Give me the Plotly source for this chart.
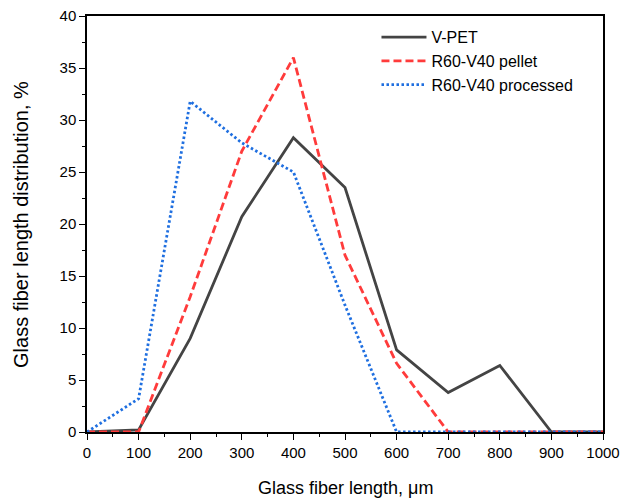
import plotly.graph_objects as go

x_um = [0, 100, 200, 300, 400, 500, 600, 700, 800, 900, 1000]
v_pet = [0, 0.2, 9.0, 20.7, 28.3, 23.5, 7.9, 3.8, 6.4, 0, 0]
r60_pellet = [0, 0, 13.0, 27.0, 36.0, 17.0, 6.6, 0, 0, 0, 0]
r60_processed = [0, 3.2, 31.8, 27.8, 25.0, 12.2, 0, 0, 0, 0, 0]

names = ["V-PET", "R60-V40 pellet", "R60-V40 processed"]
colors = ["#444444", "#ff3b3b", "#1f6fe0"]
dashes = ["solid", "8px,4px", "2.5px,2.5px"]
series = [v_pet, r60_pellet, r60_processed]

fig = go.Figure()
for nm, ys, c, d in zip(names, series, colors, dashes):
    fig.add_trace(go.Scatter(x=x_um, y=ys, mode="lines", name=nm,
                             line=dict(color=c, width=2.8, dash=d)))

axis_common = dict(showline=True, linecolor="black", linewidth=1.5, mirror=True,
                   showgrid=False, zeroline=False, ticks="outside", ticklen=6,
                   tickwidth=1.2, tickcolor="black", automargin=False,
                   tickfont=dict(family="Liberation Sans, Arial", size=15, color="black"))

fig.update_layout(
    width=622, height=503,
    margin=dict(l=87, r=19, t=16, b=71),
    paper_bgcolor="white", plot_bgcolor="white",
    font=dict(family="Liberation Sans, Arial", color="black"),
    showlegend=True,
    legend=dict(x=0.561, y=0.99, xanchor="left", yanchor="top",
                bgcolor="rgba(0,0,0,0)", font=dict(size=16, color="black"),
                itemwidth=45, tracegroupgap=0),
    xaxis=dict(range=[0, 1000], tickvals=[0, 100, 200, 300, 400, 500, 600, 700, 800, 900, 1000],
               minor=dict(ticks="outside", ticklen=3, dtick=50, tickcolor="black"),
               **axis_common),
    yaxis=dict(range=[0, 40], dtick=5,
               minor=dict(ticks="outside", ticklen=3, dtick=2.5, tickcolor="black"),
               **axis_common),
    annotations=[
        dict(text="Glass fiber length, μm", xref="paper", yref="paper",
             x=0.5, y=-0.1346, xanchor="center", yanchor="middle",
             showarrow=False, font=dict(size=18, color="black")),
        dict(text="Glass fiber length distribution, %", xref="paper", yref="paper",
             x=-0.128, y=0.5, xanchor="center", yanchor="middle", textangle=-90,
             showarrow=False, font=dict(size=20, color="black")),
    ],
)

fig.write_html("out.html")
